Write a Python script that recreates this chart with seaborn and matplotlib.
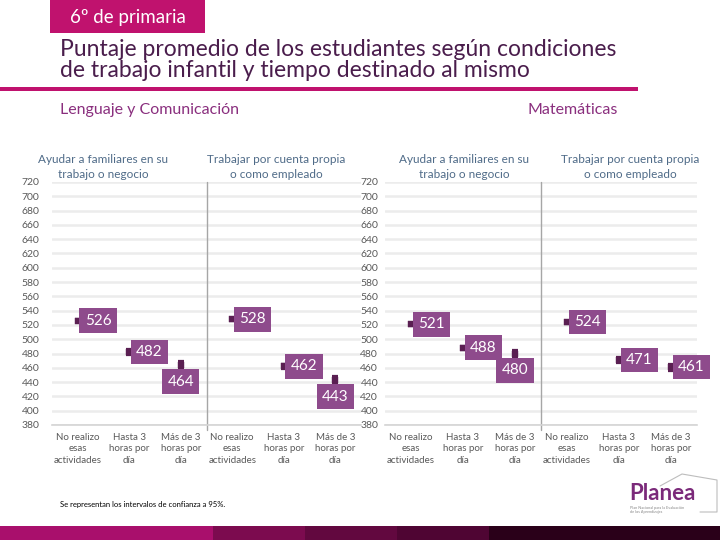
import numpy as np
import pandas as pd
import matplotlib
matplotlib.use("Agg")
import matplotlib.pyplot as plt
import seaborn as sns
from matplotlib.patches import Rectangle
from matplotlib.lines import Line2D

# Datos
categorias = [
    "No realizo\nesas\nactividades", "Hasta 3\nhoras por\ndía", "Más de 3\nhoras por\ndía",
    "No realizo\nesas\nactividades", "Hasta 3\nhoras por\ndía", "Más de 3\nhoras por\ndía",
]
grupos = ["Ayudar a familiares en su\ntrabajo o negocio",
          "Trabajar por cuenta propia\no como empleado"]
lenguaje_puntaje = [526, 482, 464, 528, 462, 443]
lenguaje_ic = [2, 4, 5, 2, 4, 5]
mate_puntaje = [521, 488, 480, 524, 471, 461]
mate_ic = [2, 3, 5, 2, 4, 5]
yticks = list(range(380, 721, 20))

# Posición de las etiquetas (estilo)
lado_lenguaje = ["right", "right", "below", "right", "right", "below"]
lado_mate = ["right", "right", "below", "right", "right", "right"]

MAGENTA = "#c0126e"
TITULO = "#4a1d4c"
SUB = "#8a2f7e"
CAJA = "#8e4b8c"
PUNTO = "#5a1f52"
PANEL = "#4f6b88"
GRIS = "#595959"

sns.set_style("white")
plt.rcParams["font.family"] = ["Lato", "DejaVu Sans"]

fig = plt.figure(figsize=(7.2, 5.4), dpi=100)


def fx(x):
    return x / 720


def fy(y):
    return 1 - y / 540


def draw_panel(ax, puntaje, ic, lados, label_pad):
    x = np.arange(len(puntaje))
    df = pd.DataFrame({"x": x, "puntaje": puntaje})
    ax.errorbar(x, puntaje, yerr=ic, fmt="none", ecolor=PUNTO,
                elinewidth=2.2, capsize=2.5, capthick=1.6, zorder=3)
    sns.scatterplot(data=df, x="x", y="puntaje", marker="s", s=14,
                    color=PUNTO, edgecolor=PUNTO, ax=ax, zorder=4, legend=False)
    for xi, v, lado in zip(x, puntaje, lados):
        if lado == "right":
            ax.annotate(str(v), (xi, v), xytext=(5, 0), textcoords="offset points",
                        ha="left", va="center", color="white", fontsize=11,
                        bbox=dict(boxstyle="square,pad=0.35", fc=CAJA, ec="none"), zorder=5)
        else:
            ax.annotate(str(v), (xi, v), xytext=(0, -7), textcoords="offset points",
                        ha="center", va="top", color="white", fontsize=11,
                        bbox=dict(boxstyle="square,pad=0.35", fc=CAJA, ec="none"), zorder=5)

    ax.set_xlim(-0.5, len(puntaje) - 0.5)
    ax.set_ylim(380, 720)
    ax.set_yticks(yticks)
    ax.set_yticklabels([str(t) for t in yticks], fontsize=7.5, color=GRIS)
    ax.set_xticks(x)
    ax.set_xticklabels(categorias, fontsize=7, color=GRIS, linespacing=1.3)
    ax.set_xticks(np.arange(-0.5, len(puntaje), 1), minor=True)
    ax.tick_params(axis="x", which="major", length=0, pad=6)
    ax.tick_params(axis="x", which="minor", length=4, color="#cfcfcf", width=1)
    ax.tick_params(axis="y", length=0, pad=label_pad)
    ax.grid(axis="y", color="#ececec", lw=1.8, zorder=0)
    ax.set_axisbelow(True)
    for s in ["top", "right", "left"]:
        ax.spines[s].set_visible(False)
    ax.spines["bottom"].set_color("#d4d4d4")
    ax.spines["bottom"].set_linewidth(1.2)
    ax.axvline(2.5, ymin=-0.02, ymax=1.0, color="#a6a6a6", lw=1, clip_on=False)
    ax.set_xlabel("")
    ax.set_ylabel("")


ax1 = fig.add_axes([fx(52), fy(425), fx(309), (425 - 182) / 540])
ax2 = fig.add_axes([fx(385), fy(425), fx(312), (425 - 182) / 540])
draw_panel(ax1, lenguaje_puntaje, lenguaje_ic, lado_lenguaje, 9)
draw_panel(ax2, mate_puntaje, mate_ic, lado_mate, 5)

# Títulos de paneles
for cx, g in zip([103, 276, 464, 630], grupos * 2):
    fig.text(fx(cx), fy(167), g, ha="center", va="center", fontsize=8.5,
             color=PANEL, linespacing=1.45)

# Encabezado
fig.add_artist(Rectangle((fx(50), fy(33)), fx(155), 33 / 540, transform=fig.transFigure,
                         fc=MAGENTA, ec="none"))
fig.text(fx(70), fy(17), "6º de primaria", ha="left", va="center", fontsize=13.5, color="white")
fig.text(fx(60), fy(60), "Puntaje promedio de los estudiantes según condiciones\n"
         "de trabajo infantil y tiempo destinado al mismo",
         ha="left", va="center", fontsize=16.5, color=TITULO, linespacing=0.95)
fig.add_artist(Rectangle((0, fy(91)), fx(638), 4 / 540, transform=fig.transFigure,
                         fc=MAGENTA, ec="none"))
fig.text(fx(60), fy(110), "Lenguaje y Comunicación", ha="left", va="center",
         fontsize=11.5, color=SUB)
fig.text(fx(618), fy(110), "Matemáticas", ha="right", va="center", fontsize=11.5, color=SUB)

# Nota
fig.text(fx(60), fy(505), "Se representan los intervalos de confianza a 95%.",
         ha="left", va="center", fontsize=5.5, color="black")

# Logo Planea
fig.add_artist(Line2D([fx(660), fx(682), fx(717), fx(717), fx(700)],
                      [fy(486), fy(474), fy(480), fy(512), fy(512)],
                      transform=fig.transFigure, color="#bdbdbd", lw=0.8))
fig.text(fx(629), fy(494), "Planea", ha="left", va="center", fontsize=16,
         fontweight="bold", color="#7b2a7a")
fig.text(fx(630), fy(510), "Plan Nacional para la Evaluación\nde los Aprendizajes",
         ha="left", va="center", fontsize=2.8, color="#8a8a8a", linespacing=1.1)

# Banda inferior
bandas = [(0, 213, "#a90f6c"), (213, 305, "#7c0b4f"), (305, 397, "#62083f"),
          (397, 489, "#4f0533"), (489, 720, "#2a0019")]
for x0, x1, c in bandas:
    fig.add_artist(Rectangle((fx(x0), 0), fx(x1 - x0), 14 / 540,
                             transform=fig.transFigure, fc=c, ec="none"))

fig.savefig("out.png", dpi=100)
